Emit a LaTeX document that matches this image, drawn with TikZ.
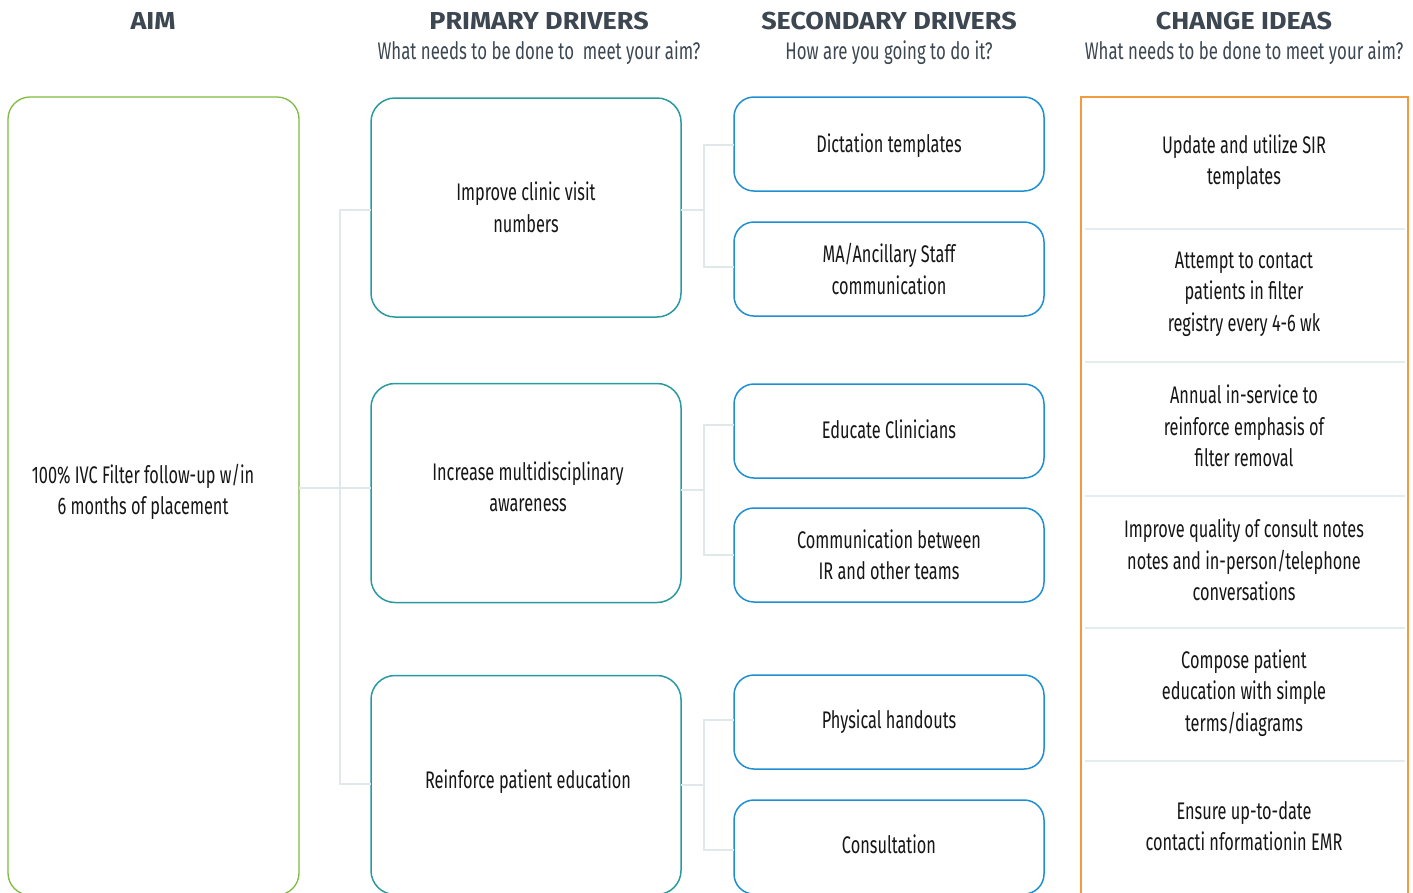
\documentclass[tikz,border=0pt]{standalone}
\usepackage{fontspec}
\setmainfont{Fira Sans}[FakeStretch=0.68]
\newfontfamily\headfont{Fira Sans}[BoldFont={Fira Sans Bold}, FakeStretch=1.1]
\newfontfamily\subfont{Fira Sans}[FakeStretch=0.70]
\definecolor{aimgreen}{HTML}{7DBB42}
\definecolor{primteal}{HTML}{2A9A9E}
\definecolor{secblue}{HTML}{1E90D2}
\definecolor{chorange}{HTML}{F29A3F}
\definecolor{conn}{HTML}{E1E8EA}
\definecolor{sepcol}{HTML}{E3ECEE}
\definecolor{headcol}{HTML}{3D4752}
\definecolor{bodycol}{HTML}{161616}
\begin{document}
\begin{tikzpicture}[x=1pt,y=-1pt,
  every node/.style={inner sep=0pt, outer sep=0pt},
  bodytext/.style={font=\fontsize{24}{31.5}\selectfont, text=bodycol, align=center},
  aimbox/.style={draw=aimgreen, line width=1.3pt, rounded corners=22pt, minimum width=291pt, minimum height=798pt},
  primbox/.style={draw=primteal, line width=1.5pt, rounded corners=24pt, minimum width=310pt, minimum height=219pt, bodytext},
  secbox/.style={draw=secblue, line width=1.5pt, rounded corners=20pt, minimum width=310pt, minimum height=94pt, bodytext},
  chbox/.style={draw=chorange, line width=1.5pt, minimum width=327pt, minimum height=820pt},
  idea/.style={bodytext},
  hdr/.style={font=\headfont\bfseries\fontsize{24.5}{27}\selectfont, text=headcol},
  sub/.style={font=\subfont\fontsize{24}{28}\selectfont, text=headcol},
  link/.style={draw=conn, line width=2pt},
  sepline/.style={draw=sepcol, line width=1.2pt}]
\useasboundingbox (0,0) rectangle (1413,892);
\fill[white] (0,0) rectangle (1413,892);

% headers
\node[hdr] (hAim) at (153,21) {AIM};
\node[hdr] (hPrim) at (539,21) {PRIMARY DRIVERS};
\node[sub] (sPrim) at (539,53) {What needs to be done to\ \ meet your aim?};
\node[hdr] (hSec) at (889,21) {SECONDARY DRIVERS};
\node[sub] (sSec) at (889,53) {How are you going to do it?};
\node[hdr] (hCh) at (1244,21) {CHANGE IDEAS};
\node[sub] (sCh) at (1244,53) {What needs to be done to meet your aim?};

% aim
\node[aimbox] (aim) at (153.5,496) {};
\node[bodytext] (aimtext) at (143,492) {100\% IVC Filter follow-up w/in\\6 months of placement};

% primary drivers
\node[primbox] (p1) at (526,207.5) {Improve clinic visit\\numbers};
\node[primbox] (p2) at (526,493) {};
\node[bodytext] (p2text) at (528,487) {Increase multidisciplinary\\awareness};
\node[primbox] (p3) at (526,785) {};
\node[bodytext] (p3text) at (528,782) {Reinforce patient education};

% secondary drivers
\node[secbox] (s1) at (889,144) {};
\node[bodytext] (s1text) at (889,146) {Dictation templates};
\node[secbox] (s2) at (889,269) {MA/Ancillary Staff\\communication};
\node[secbox] (s3) at (889,431) {};
\node[bodytext] (s3text) at (889,429) {Educate Clinicians};
\node[secbox] (s4) at (889,555) {Communication between\\IR and other teams};
\node[secbox] (s5) at (889,722) {Physical handouts};
\node[secbox] (s6) at (889,847) {};
\node[bodytext] (s6text) at (889,844) {Consultation};

% change ideas
\node[chbox] (ch) at (1244.5,507) {};
\coordinate (c1) at (1085,229);
\coordinate (c2) at (1085,362);
\coordinate (c3) at (1085,496);
\coordinate (c4) at (1085,628);
\coordinate (c5) at (1085,761);
\draw[sepline] (c1) -- ++(320,0);
\draw[sepline] (c2) -- ++(320,0);
\draw[sepline] (c3) -- ++(320,0);
\draw[sepline] (c4) -- ++(320,0);
\draw[sepline] (c5) -- ++(320,0);
\node[idea] (i1) at (1244,162) {Update and utilize SIR\\templates};
\node[idea] (i2) at (1244,294) {Attempt to contact\\patients in filter\\registry every 4-6 wk};
\node[idea] (i3) at (1244,426) {Annual in-service to\\reinforce emphasis of\\filter removal};
\node[idea] (i4) at (1244,560) {Improve quality of consult notes\\notes and in-person/telephone\\conversations};
\node[idea] (i5) at (1244,693) {Compose patient\\education with simple\\terms/diagrams};
\node[idea] (i6) at (1244,826) {Ensure up-to-date\\contacti nformationin EMR};

% connectors aim -> primary
\coordinate (aj) at (340,488);
\draw[link] (aim.east |- aj) -- (aj);
\draw[link] (p1.west |- 0,210) -| (340,210) |- (p3.west |- 0,784);
\draw[link] (aj) -- (p2.west |- aj);

% primary -> secondary
\coordinate (b1) at (704,210);
\draw[link] (p1.east |- b1) -- (b1);
\draw[link] (s1.west |- 0,145) -| (704,145) |- (s2.west |- 0,267);
\coordinate (b2) at (704,490);
\draw[link] (p2.east |- b2) -- (b2);
\draw[link] (s3.west |- 0,425) -| (704,425) |- (s4.west |- 0,555);
\coordinate (b3) at (704,785);
\draw[link] (p3.east |- b3) -- (b3);
\draw[link] (s5.west |- 0,720) -| (704,720) |- (s6.west |- 0,850);
\end{tikzpicture}
\end{document}
